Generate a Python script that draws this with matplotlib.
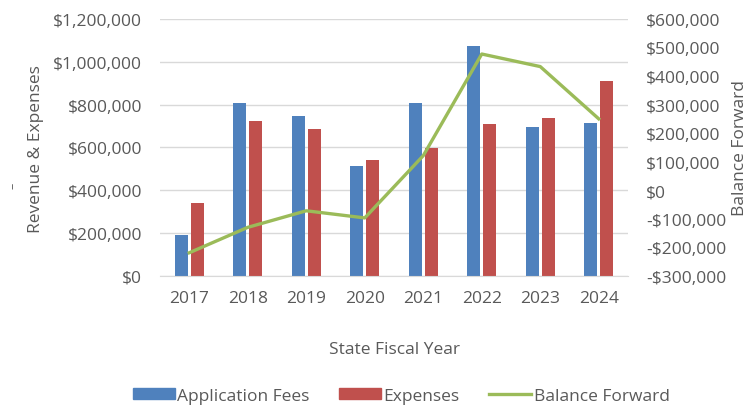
import matplotlib.pyplot as plt
import numpy as np
from matplotlib.ticker import FuncFormatter
from matplotlib.patches import Patch
from matplotlib.lines import Line2D

years = ['2017', '2018', '2019', '2020', '2021', '2022', '2023', '2024']
app_fees = [193000, 806000, 746000, 515000, 806000, 1075000, 693000, 716000]
expenses = [341000, 724000, 686000, 543000, 596000, 708000, 739000, 911000]
balance = [-219000, -130000, -72000, -97000, 121000, 477000, 433000, 250000]

blue = '#4F81BD'
red = '#C0504D'
green = '#9BBB59'
grey = '#595959'

plt.rcParams['font.family'] = ['Open Sans', 'DejaVu Sans']
fs = 12.5

def money(v, pos):
    if v < 0:
        return '-${:,.0f}'.format(-v)
    return '${:,.0f}'.format(v)

fig = plt.figure(figsize=(7.53, 4.06), dpi=100)
ax = fig.add_axes([0.2125, 0.318, 0.6215, 0.633])
ax2 = ax.twinx()

x = np.arange(len(years))
w = 0.22
ax.bar(x - 0.135, app_fees, w, color=blue, zorder=2)
ax.bar(x + 0.135, expenses, w, color=red, zorder=2)
ax2.plot(x, balance, color=green, lw=2.4, zorder=3)

ax.set_xlim(-0.5, 7.5)
ax.set_ylim(0, 1200000)
ax.set_yticks(np.arange(0, 1200001, 200000))
ax.yaxis.set_major_formatter(FuncFormatter(money))
ax2.set_ylim(-300000, 600000)
ax2.set_yticks(np.arange(-300000, 600001, 100000))
ax2.yaxis.set_major_formatter(FuncFormatter(money))
ax.set_xticks(x)
ax.set_xticklabels(years)

ax.grid(axis='y', color='#D9D9D9', lw=1, zorder=0)
ax.set_axisbelow(True)
for a in (ax, ax2):
    for s in a.spines.values():
        s.set_visible(False)
    a.tick_params(length=0, colors=grey, labelsize=fs)
ax.spines['bottom'].set_visible(True)
ax.spines['bottom'].set_color('#D9D9D9')
ax.tick_params(axis='x', pad=10)
ax.tick_params(axis='y', pad=13)
ax2.tick_params(axis='y', pad=13)

ax.set_xlabel('State Fiscal Year', color=grey, fontsize=fs, labelpad=25)
fig.text(0.048, 0.634, 'Revenue & Expenses', rotation=90, color=grey,
         fontsize=fs, ha='center', va='center')
fig.text(0.983, 0.635, 'Balance Forward', rotation=90, color=grey,
         fontsize=fs, ha='center', va='center')
fig.text(0.017, 0.543, '–', rotation=90, color=grey, fontsize=9,
         ha='center', va='center')

handles = [Patch(color=blue), Patch(color=red), Line2D([0], [0], color=green, lw=2.4)]
fig.legend(handles, ['Application Fees', 'Expenses', 'Balance Forward'],
           loc='center', bbox_to_anchor=(0.533, 0.023), ncol=3, frameon=False,
           fontsize=fs, labelcolor=grey, handlelength=2.4, handleheight=0.55,
           handletextpad=0.15, columnspacing=1.7, borderpad=0)

fig.savefig('out.png', dpi=100)
